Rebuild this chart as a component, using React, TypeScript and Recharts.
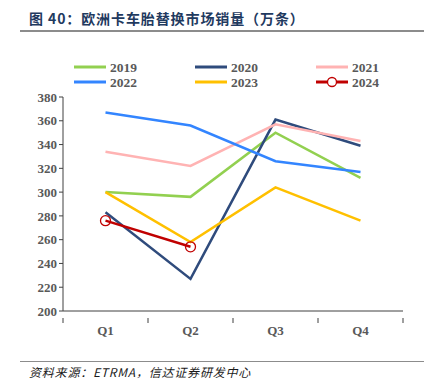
import React from 'react';
import { LineChart, Line, XAxis, YAxis } from 'recharts';

const quarters = ['Q1', 'Q2', 'Q3', 'Q4'];
const yTicks = [200, 220, 240, 260, 280, 300, 320, 340, 360, 380];
const s2019 = [300, 296, 350, 312];
const s2020 = [283, 227, 361, 339];
const s2021 = [334, 322, 357, 343];
const s2022 = [367, 356, 326, 317];
const s2023 = [300, 258, 304, 276];
const s2024: (number | null)[] = [276, 254, null, null];

const seriesMeta = [
  { key: 'y2019', name: '2019', color: '#92D050' },
  { key: 'y2020', name: '2020', color: '#2F4B7C' },
  { key: 'y2021', name: '2021', color: '#FFB3B3' },
  { key: 'y2022', name: '2022', color: '#3385FF' },
  { key: 'y2023', name: '2023', color: '#FFC000' },
  { key: 'y2024', name: '2024', color: '#C00000' },
];

const data = quarters.map((q, i) => ({
  x: i + 0.5,
  q,
  y2019: s2019[i],
  y2020: s2020[i],
  y2021: s2021[i],
  y2022: s2022[i],
  y2023: s2023[i],
  y2024: s2024[i],
}));

const xTicks = [0, 0.5, 1, 1.5, 2, 2.5, 3, 3.5, 4];

const XTick = (props: any) => {
  const { x, y, payload } = props;
  const v = payload.value;
  if (Number.isInteger(v)) {
    return <line x1={x} x2={x} y1={y - 1} y2={y + 4} stroke="#404040" strokeWidth={1} />;
  }
  const idx = Math.floor(v);
  return (
    <text x={x} y={y + 16} textAnchor="middle" fontFamily="'Liberation Serif', serif" fontWeight="bold" fontSize={13} fill="#595959">
      {quarters[idx]}
    </text>
  );
};

const LegendBlock = () => {
  const cols = [74, 195, 316];
  const rows = [67, 82];
  return (
    <svg width={424} height={100} style={{ position: 'absolute', left: 0, top: 0, overflow: 'visible', pointerEvents: 'none' }}>
      {seriesMeta.map((s, i) => {
        const cx = cols[i % 3];
        const cy = rows[Math.floor(i / 3)];
        return (
          <g key={s.key}>
            <line x1={cx} x2={cx + 32} y1={cy} y2={cy} stroke={s.color} strokeWidth={3} />
            {s.key === 'y2024' && <circle cx={cx + 16} cy={cy} r={4.5} fill="#fff" stroke={s.color} strokeWidth={1.3} />}
            <text x={cx + 36} y={cy + 5} fontFamily="'Liberation Serif', serif" fontWeight="bold" fontSize={13.5} fill="#595959">
              {s.name}
            </text>
          </g>
        );
      })}
    </svg>
  );
};

export default function App() {
  return (
    <div style={{ position: 'absolute', left: 0, top: 0, width: 424, height: 387, background: '#fff' }}>
      <div style={{ position: 'absolute', left: 29, top: 9, fontFamily: "'Noto Sans CJK SC', sans-serif", fontWeight: 'bold', fontSize: 14, letterSpacing: 0.9, color: '#1F3A5F', lineHeight: '18px', whiteSpace: 'nowrap' }}>
        图 40：欧洲卡车胎替换市场销量（万条）
      </div>
      <div style={{ position: 'absolute', left: 20, top: 30, width: 404, height: 2, background: '#8C8C8C' }} />
      <div style={{ position: 'absolute', left: 0, top: 0 }}>
        <LineChart width={424} height={387} data={data} margin={{ top: 97, right: 21, bottom: 0, left: 0 }}>
          <XAxis
            dataKey="x"
            type="number"
            domain={[0, 4]}
            ticks={xTicks}
            interval={0}
            tick={<XTick />}
            tickLine={false}
            axisLine={{ stroke: '#404040', strokeWidth: 1 }}
            height={76}
          />
          <YAxis
            domain={[200, 380]}
            ticks={yTicks}
            interval={0}
            width={63}
            tickSize={4}
            tickLine={{ stroke: '#404040' }}
            axisLine={{ stroke: '#404040', strokeWidth: 1 }}
            tick={{ fontFamily: "'Liberation Serif', serif", fontWeight: 'bold', fontSize: 13, fill: '#595959' }}
          />
          {seriesMeta.map((s) => (
            <Line
              key={s.key}
              dataKey={s.key}
              name={s.name}
              stroke={s.color}
              strokeWidth={2.5}
              type="linear"
              isAnimationActive={false}
              connectNulls={false}
              dot={s.key === 'y2024' ? { r: 5, fill: 'none', stroke: s.color, strokeWidth: 1.3 } : false}
              activeDot={false}
            />
          ))}
        </LineChart>
      </div>
      <LegendBlock />
      <div style={{ position: 'absolute', left: 20, top: 361, width: 404, height: 1, background: '#8C8C8C' }} />
      <div style={{ position: 'absolute', left: 29, top: 364, fontFamily: "'Noto Sans CJK SC', sans-serif", fontStyle: 'italic', fontSize: 12, letterSpacing: 0.8, color: '#1a1a1a', lineHeight: '16px', whiteSpace: 'nowrap' }}>
        资料来源：ETRMA，信达证券研发中心
      </div>
    </div>
  );
}
